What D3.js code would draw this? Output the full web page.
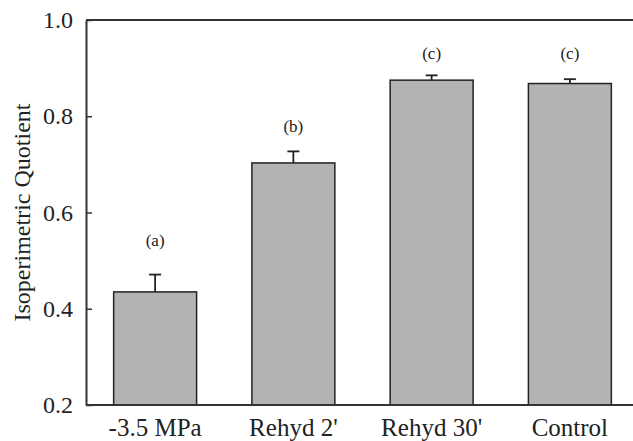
<!DOCTYPE html>
<html lang="en">
    <head>
        <meta charset="utf-8">
        <title>Isoperimetric Quotient</title>
        <script type="text/javascript" src="https://d3js.org/d3.v7.min.js"></script>
        <style type="text/css">
            body { margin: 0; background: #fff; }
            text { font-family: "Liberation Serif", "Times New Roman", serif; fill: #222; }
        </style>
    </head>
    <body>
        <script type="text/javascript">

        //Data
        const categories = ["-3.5 MPa", "Rehyd 2'", "Rehyd 30'", "Control"];
        const means = [0.435, 0.703, 0.875, 0.868];
        const errors = [0.036, 0.024, 0.010, 0.009];
        const letters = ["(a)", "(b)", "(c)", "(c)"];
        const letterAt = [0.542, 0.778, 0.931, 0.931];
        const yTicks = [0.2, 0.4, 0.6, 0.8, 1.0];

        const data = categories.map((c, i) => ({
            cat: c, mean: means[i], err: errors[i], letter: letters[i], at: letterAt[i]
        }));

        //Layout
        const width = 633;
        const height = 441;
        const plotLeft = 86, plotTop = 20, plotBottom = 405, plotRight = 639;

        //Scales
        const xScale = d3.scaleBand()
                        .domain(categories)
                        .range([plotLeft, plotRight])
                        .paddingInner(0.4)
                        .paddingOuter(0.2);

        const yScale = d3.scaleLinear()
                        .domain([0.2, 1.0])
                        .range([plotBottom, plotTop]);

        //SVG
        const svg = d3.select("body")
                    .append("svg")
                    .attr("width", width)
                    .attr("height", height);

        //Bars
        svg.selectAll("rect.bar")
            .data(data)
            .enter()
            .append("rect")
            .attr("class", "bar")
            .attr("x", d => xScale(d.cat))
            .attr("y", d => yScale(d.mean))
            .attr("width", xScale.bandwidth())
            .attr("height", d => plotBottom - yScale(d.mean))
            .attr("fill", "#b3b3b3")
            .attr("stroke", "#222")
            .attr("stroke-width", 1.5);

        //Error bars (upper only)
        const eb = svg.selectAll("g.err")
            .data(data)
            .enter()
            .append("g")
            .attr("class", "err")
            .attr("stroke", "#222")
            .attr("stroke-width", 1.8);

        eb.append("line")
            .attr("x1", d => xScale(d.cat) + xScale.bandwidth() / 2)
            .attr("x2", d => xScale(d.cat) + xScale.bandwidth() / 2)
            .attr("y1", d => yScale(d.mean))
            .attr("y2", d => yScale(d.mean + d.err));

        eb.append("line")
            .attr("x1", d => xScale(d.cat) + xScale.bandwidth() / 2 - 6)
            .attr("x2", d => xScale(d.cat) + xScale.bandwidth() / 2 + 6)
            .attr("y1", d => yScale(d.mean + d.err))
            .attr("y2", d => yScale(d.mean + d.err));

        //Significance letters
        svg.selectAll("text.letter")
            .data(data)
            .enter()
            .append("text")
            .attr("class", "letter")
            .attr("x", d => xScale(d.cat) + xScale.bandwidth() / 2)
            .attr("y", d => yScale(d.at))
            .attr("dy", "0.32em")
            .attr("text-anchor", "middle")
            .attr("font-size", 17)
            .text(d => d.letter);

        //Frame (top border, cropped on the right)
        svg.append("line")
            .attr("x1", plotLeft).attr("x2", width + 10)
            .attr("y1", plotTop).attr("y2", plotTop)
            .attr("stroke", "#333").attr("stroke-width", 2);

        //Axes
        const leftAxis = d3.axisLeft(yScale)
                           .tickValues(yTicks)
                           .tickFormat(d3.format(".1f"))
                           .tickSizeInner(-6)
                           .tickSizeOuter(0)
                           .tickPadding(13);

        const gy = svg.append("g")
            .attr("transform", "translate(" + plotLeft + ",0)")
            .call(leftAxis);
        gy.select(".domain").attr("stroke", "#333").attr("stroke-width", 2);
        gy.selectAll(".tick line").attr("stroke", "#333").attr("stroke-width", 1.5);
        gy.selectAll(".tick text")
            .attr("font-size", 24)
            .attr("font-family", "Liberation Serif")
            .attr("fill", "#222");

        const bottomAxis = d3.axisBottom(xScale)
                             .tickSize(0)
                             .tickPadding(13);

        const gx = svg.append("g")
            .attr("transform", "translate(0," + plotBottom + ")")
            .call(bottomAxis);
        gx.select(".domain").remove();
        gx.selectAll(".tick text")
            .attr("font-size", 25)
            .attr("font-family", "Liberation Serif")
            .attr("fill", "#222");

        svg.append("line")
            .attr("x1", plotLeft).attr("x2", width + 10)
            .attr("y1", plotBottom).attr("y2", plotBottom)
            .attr("stroke", "#333").attr("stroke-width", 2);

        //Y axis title
        svg.append("text")
            .attr("transform", "translate(30," + ((plotTop + plotBottom) / 2) + ") rotate(-90)")
            .attr("text-anchor", "middle")
            .attr("font-size", 24)
            .text("Isoperimetric Quotient");

        </script>
    </body>
</html>
